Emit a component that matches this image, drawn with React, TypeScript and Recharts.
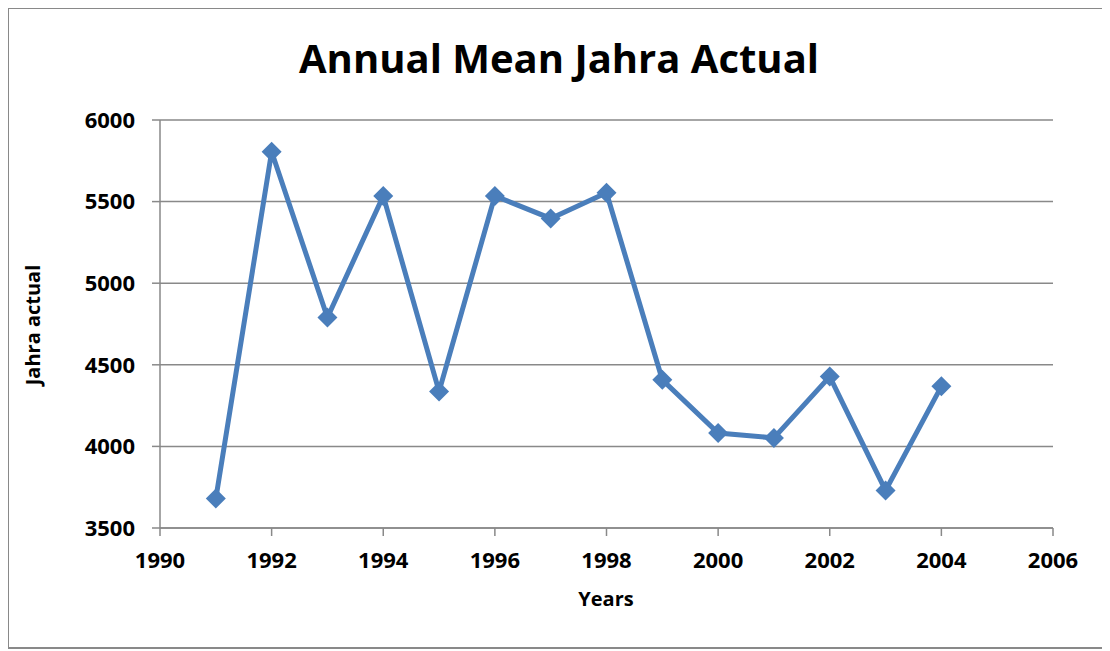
import { LineChart, Line, XAxis, YAxis, CartesianGrid } from 'recharts';

// Valores
const years = [1991, 1992, 1993, 1994, 1995, 1996, 1997, 1998, 1999, 2000, 2001, 2002, 2003, 2004];
const jahraActual = [3680, 5805, 4790, 5535, 4337, 5535, 5397, 5554, 4408, 4082, 4052, 4428, 3730, 4368];
const xTicks = [1990, 1992, 1994, 1996, 1998, 2000, 2002, 2004, 2006];
const yTicks = [3500, 4000, 4500, 5000, 5500, 6000];

const data = years.map((year, i) => ({ year, value: jahraActual[i] }));

const FONT = '"Open Sans", sans-serif';
const BLUE = '#4A7EBB';
const GRAY = '#898989';

const Diamond = (props: any) => {
  const { cx, cy } = props;
  if (cx == null || cy == null) return null;
  const r = 10;
  return (
    <polygon
      points={`${cx},${cy - r} ${cx + r},${cy} ${cx},${cy + r} ${cx - r},${cy}`}
      fill={BLUE}
      stroke="none"
    />
  );
};

const App = () => {
  return (
    <div
      style={{
        position: 'relative',
        width: 1097,
        height: 642,
        margin: '-1px 0 0 -1px',
        border: `2px solid ${GRAY}`,
        boxSizing: 'border-box',
        fontFamily: FONT,
      }}
    >
      <div style={{ position: 'absolute', left: -9, top: -9, width: 1110, height: 651 }}>
        <div
          style={{
            position: 'absolute',
            left: 0,
            width: 1118,
            top: 30,
            textAlign: 'center',
            fontSize: 40,
            fontWeight: 700,
            lineHeight: '56px',
            color: '#000',
          }}
        >
          Annual Mean Jahra Actual
        </div>
        <div
          style={{
            position: 'absolute',
            left: 576,
            width: 60,
            top: 585,
            textAlign: 'center',
            fontSize: 20,
            fontWeight: 700,
            lineHeight: '28px',
            color: '#000',
          }}
        >
          Years
        </div>
        <div
          style={{
            position: 'absolute',
            left: 33 - 100,
            top: 325 - 14,
            width: 200,
            textAlign: 'center',
            fontSize: 20,
            fontWeight: 700,
            lineHeight: '28px',
            color: '#000',
            transform: 'rotate(-90deg)',
          }}
        >
          Jahra actual
        </div>
        <LineChart
          width={1110}
          height={651}
          data={data}
          margin={{ top: 120, right: 57, bottom: 63, left: 80 }}
          style={{ position: 'absolute', left: 0, top: 0 }}
        >
          <CartesianGrid vertical={false} stroke={GRAY} strokeWidth={1.5} />
          <XAxis
            dataKey="year"
            type="number"
            domain={[1990, 2006]}
            ticks={xTicks}
            height={60}
            stroke={GRAY}
            strokeWidth={1.5}
            tickSize={8}
            tickMargin={16}
            tick={{ fill: '#000', fontSize: 22, fontWeight: 700, fontFamily: FONT }}
          />
          <YAxis
            type="number"
            domain={[3500, 6000]}
            ticks={yTicks}
            width={80}
            stroke={GRAY}
            strokeWidth={1.5}
            tickSize={8}
            tickMargin={17}
            tick={{ fill: '#000', fontSize: 22, fontWeight: 700, fontFamily: FONT }}
          />
          <Line
            type="linear"
            dataKey="value"
            stroke={BLUE}
            strokeWidth={5}
            dot={<Diamond />}
            activeDot={false}
            isAnimationActive={false}
          />
        </LineChart>
      </div>
    </div>
  );
};

export default App;
